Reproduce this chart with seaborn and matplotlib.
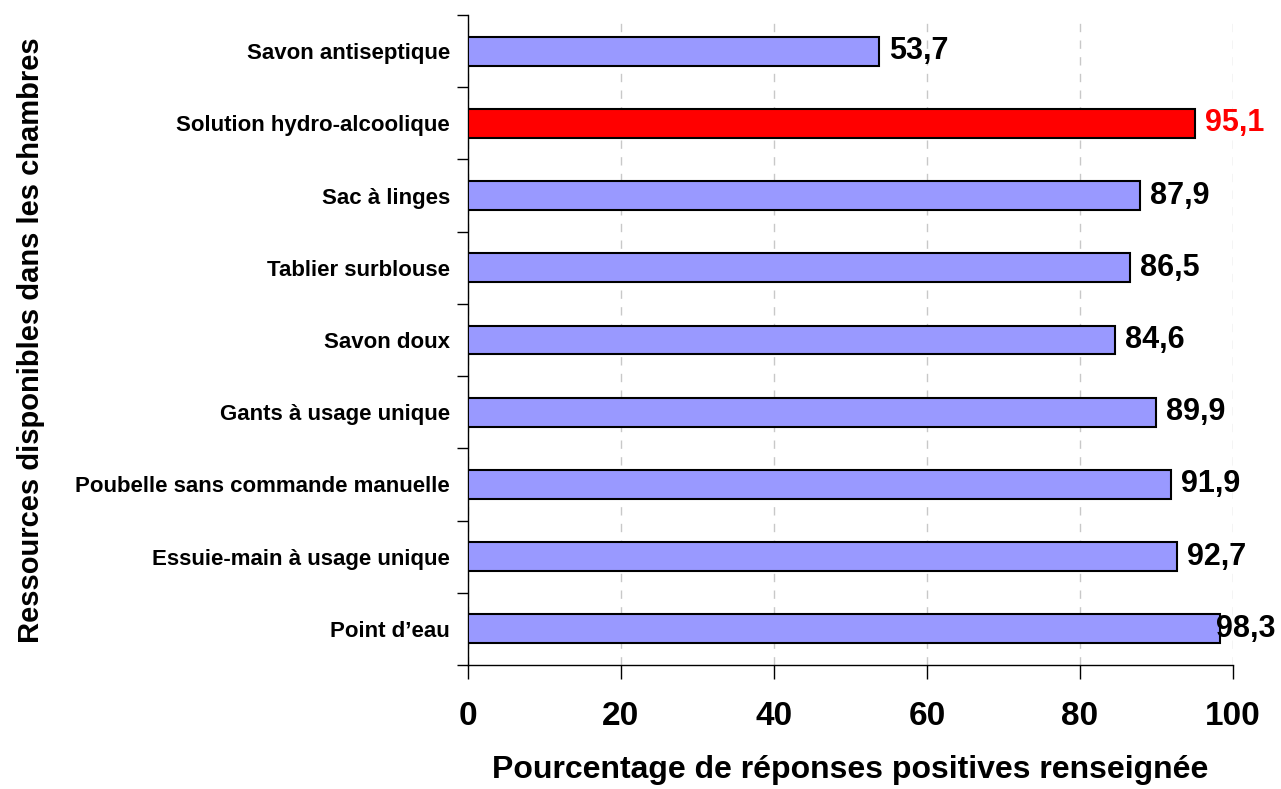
import numpy as np
import pandas as pd
import seaborn as sns
import matplotlib.pyplot as plt
from matplotlib.ticker import FixedLocator

# data
categories = ["Savon antiseptique", "Solution hydro-alcoolique", "Sac à linges",
              "Tablier surblouse", "Savon doux", "Gants à usage unique",
              "Poubelle sans commande manuelle", "Essuie-main à usage unique",
              "Point d’eau"]
values = [53.7, 95.1, 87.9, 86.5, 84.6, 89.9, 91.9, 92.7, 98.3]
highlight = "Solution hydro-alcoolique"
x_ticks = [0, 20, 40, 60, 80, 100]

sns.set_style("white")
plt.rcParams['font.family'] = ['Liberation Sans', 'DejaVu Sans']
plt.rcParams['font.weight'] = 'bold'
plt.rcParams['text.color'] = 'black'
plt.rcParams['axes.labelcolor'] = 'black'
plt.rcParams['xtick.color'] = 'black'
plt.rcParams['ytick.color'] = 'black'

df = pd.DataFrame({"ressource": categories, "pct": values})
colors = ["#FF0000" if c == highlight else "#9999FF" for c in categories]

fig = plt.figure(figsize=(12.81, 7.89), dpi=100)
ax = fig.add_axes([0.3653, 0.1572, 0.5972, 0.8238])

sns.barplot(data=df, x="pct", y="ressource", hue="ressource", palette=colors,
            saturation=1, legend=False, width=0.4, edgecolor="black",
            linewidth=1.5, orient="h", ax=ax, zorder=3)

ax.set_xlim(0, 100)
ax.set_ylim(len(categories) - 0.5, -0.5)
ax.set_xticks(x_ticks)
ax.set_xticklabels([str(t) for t in x_ticks], fontsize=24, fontweight='bold')
ax.tick_params(axis='x', bottom=True, length=10, width=1, direction='out',
               pad=16, color='black', labelcolor='black')

# y tick marks between categories, labels at the centres
ax.tick_params(axis='y', which='major', left=True, length=0, pad=13,
               labelsize=16, labelcolor='black')
ax.yaxis.set_minor_locator(FixedLocator(np.arange(-0.5, len(categories), 1)))
ax.tick_params(axis='y', which='minor', left=True, length=8, width=1,
               direction='out', color='black')
for lab in ax.get_yticklabels():
    lab.set_fontweight('bold')

ax.xaxis.grid(True, linestyle=(0, (6, 6)), color='#c8c8c8', linewidth=1, zorder=0)
ax.yaxis.grid(False)
for s in ["top", "right"]:
    ax.spines[s].set_visible(False)
for s in ["left", "bottom"]:
    ax.spines[s].set_color('black')
    ax.spines[s].set_linewidth(1)

# value labels
for i, (c, v) in enumerate(zip(categories, values)):
    col = "#FF0000" if c == highlight else "black"
    xpos = min(v + 1.3, 97.8)
    ax.text(xpos, i, f"{v:.1f}".replace(".", ","), va='center', ha='left',
            fontsize=22, fontweight='bold', color=col, zorder=4, clip_on=False)

ax.set_xlabel("Pourcentage de réponses positives renseignée", fontsize=23,
              fontweight='bold', color='black')
ax.set_ylabel("Ressources disponibles dans les chambres", fontsize=21,
              fontweight='bold', color='black')
ax.yaxis.set_label_coords(-0.553, 0.5)
ax.xaxis.set_label_coords(0.5, -0.139)

fig.savefig("out.png", dpi=100)
